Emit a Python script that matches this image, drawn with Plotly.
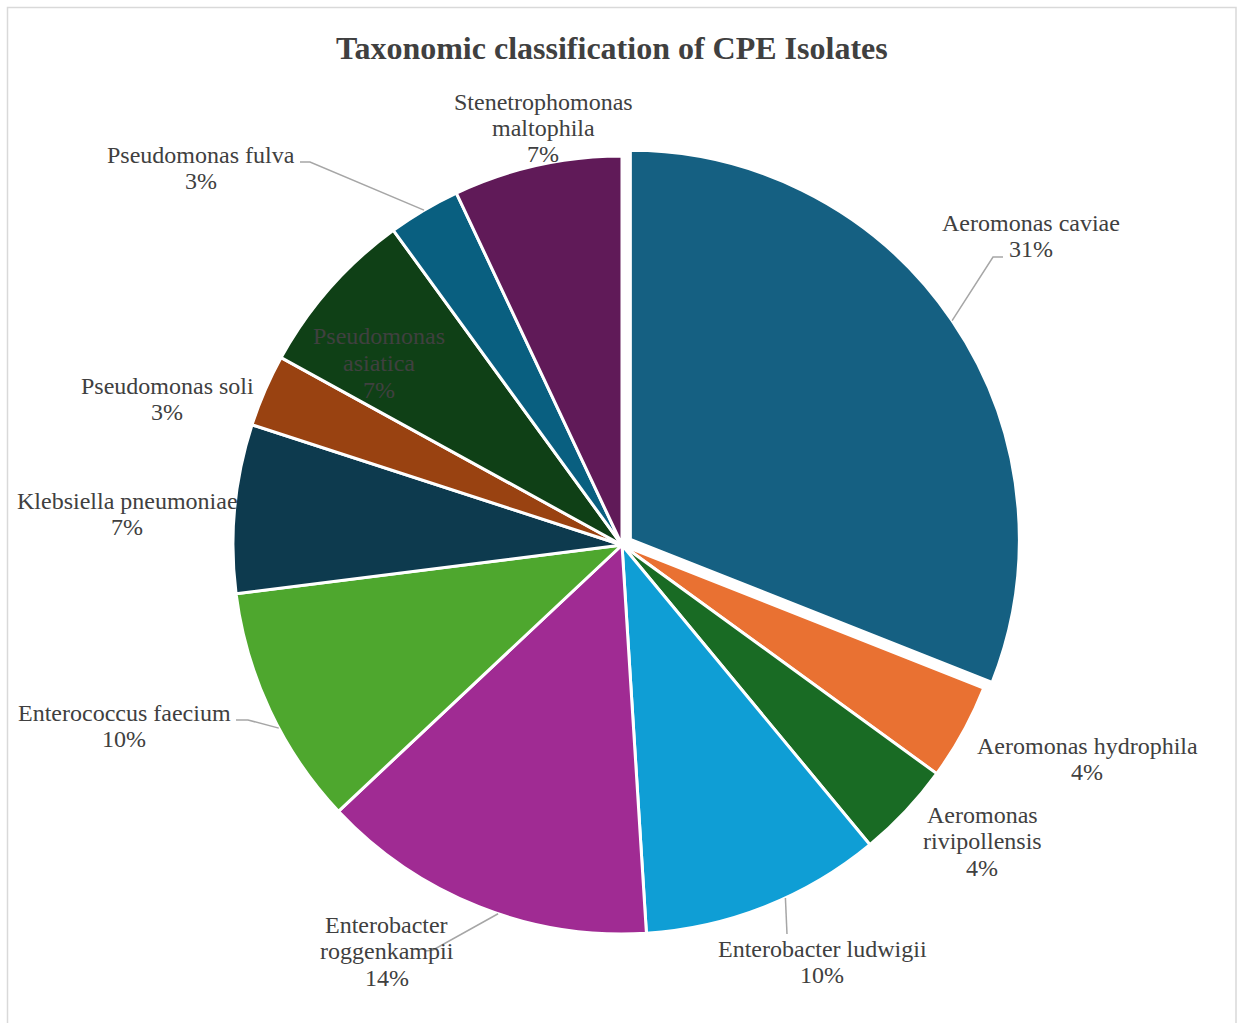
import math
import plotly.graph_objects as go

# ---- data -------------------------------------------------------------
species = [
    "Aeromonas caviae",
    "Aeromonas hydrophila",
    "Aeromonas rivipollensis",
    "Enterobacter ludwigii",
    "Enterobacter roggenkampii",
    "Enterococcus faecium",
    "Klebsiella pneumoniae",
    "Pseudomonas soli",
    "Pseudomonas asiatica",
    "Pseudomonas fulva",
    "Stenetrophomonas maltophila",
]
percent = [31, 4, 4, 10, 14, 10, 7, 3, 7, 3, 7]

colors = [
    "#156082", "#E97132", "#196B24", "#0F9ED5", "#A02B93", "#4EA72E",
    "#0D3A4E", "#994211", "#0F4016", "#095F80", "#601A58",
]

# ---- layout geometry --------------------------------------------------
W, H = 1238, 1023
CX, CY, R = 622, 545, 389
PULL = 0.026
LINE_H = 26.5


def px(x):
    return x / W


def py(y):
    return 1 - y / H


box = R * (2 + 2 * PULL)
pulls = [PULL] + [0] * (len(species) - 1)

fig = go.Figure(
    go.Pie(
        labels=species,
        values=percent,
        sort=False,
        direction="clockwise",
        rotation=0,
        pull=pulls,
        textinfo="none",
        marker=dict(colors=colors, line=dict(color="white", width=3)),
        domain=dict(
            x=[px(CX - box / 2), px(CX + box / 2)],
            y=[py(CY + box / 2), py(CY - box / 2)],
        ),
        showlegend=False,
    )
)

# wrapped display names
wrapped = {
    "Aeromonas rivipollensis": ["Aeromonas", "rivipollensis"],
    "Enterobacter roggenkampii": ["Enterobacter", "roggenkampii"],
    "Pseudomonas asiatica": ["Pseudomonas", "asiatica"],
    "Stenetrophomonas maltophila": ["Stenetrophomonas", "maltophila"],
}

# label centres (pixels)
label_pos = {
    "Aeromonas caviae": (1031, 236),
    "Aeromonas hydrophila": (1087, 759),
    "Aeromonas rivipollensis": (982, 841),
    "Enterobacter ludwigii": (822, 962),
    "Enterobacter roggenkampii": (387, 951),
    "Enterococcus faecium": (124, 726),
    "Klebsiella pneumoniae": (127, 514),
    "Pseudomonas soli": (167, 399),
    "Pseudomonas asiatica": (379, 363),
    "Pseudomonas fulva": (201, 168),
    "Stenetrophomonas maltophila": (543, 128),
}

font_family = "Liberation Serif, Times New Roman, serif"
annotations = []
for name, val in zip(species, percent):
    x, y = label_pos[name]
    lines = wrapped.get(name, [name]) + [f"{val}%"]
    n = len(lines)
    for i, line in enumerate(lines):
        annotations.append(
            dict(
                x=px(x), y=py(y + (i - (n - 1) / 2) * LINE_H),
                xref="paper", yref="paper",
                text=line, showarrow=False,
                xanchor="center", yanchor="middle",
                font=dict(family=font_family, size=24, color="#404040"),
            )
        )

annotations.append(
    dict(
        x=px(612), y=py(48), xref="paper", yref="paper",
        text="<b>Taxonomic classification of CPE Isolates</b>",
        showarrow=False, xanchor="center", yanchor="middle",
        font=dict(family=font_family, size=32, color="#404040"),
    )
)

# leader lines: (fraction along slice, label-side points)
leaders = {
    "Aeromonas caviae": (0.5, [(993, 257), (1003, 257)]),
    "Enterobacter ludwigii": (0.41, [(787, 934)]),
    "Enterobacter roggenkampii": (0.44, [(433, 950), (425, 951)]),
    "Enterococcus faecium": (0.42, [(248, 720), (236, 720)]),
    "Pseudomonas fulva": (0.5, [(310, 162), (300, 162)]),
}

total = sum(percent)
shapes = []
start = 0.0
for i, (name, val) in enumerate(zip(species, percent)):
    span = val / total * 360
    if name in leaders:
        frac, pts = leaders[name]
        ang = math.radians(start + frac * span)
        mid = math.radians(start + span / 2)
        off = pulls[i] * R
        ax = CX + R * math.sin(ang) + off * math.sin(mid)
        ay = CY - R * math.cos(ang) - off * math.cos(mid)
        path_pts = [(ax, ay)] + pts
        path = "M " + " L ".join(f"{px(a)},{py(b)}" for a, b in path_pts)
        shapes.append(
            dict(type="path", path=path, xref="paper", yref="paper",
                 line=dict(color="#A6A6A6", width=1.5))
        )
    start += span

# chart frame
shapes.append(
    dict(type="rect", xref="paper", yref="paper",
         x0=px(7.5), x1=px(1236), y0=py(1030), y1=py(7.5),
         line=dict(color="#D9D9D9", width=1.5))
)

fig.update_layout(
    width=W, height=H,
    margin=dict(l=0, r=0, t=0, b=0),
    paper_bgcolor="white",
    plot_bgcolor="white",
    annotations=annotations,
    shapes=shapes,
)

fig.write_html("out.html")
